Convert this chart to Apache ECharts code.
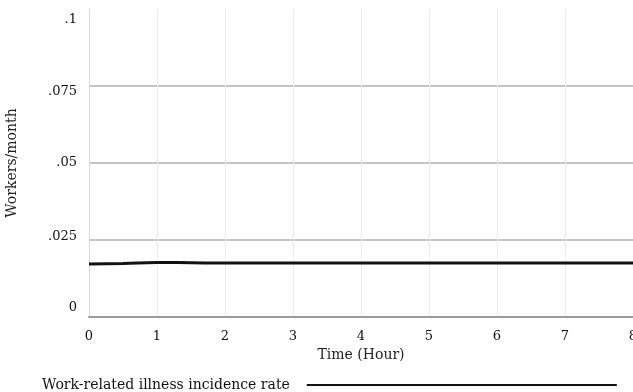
<!DOCTYPE html>
<html>
<head>
<meta charset="utf-8">
<script src="https://cdn.jsdelivr.net/npm/echarts@6/dist/echarts.min.js"></script>
<style>
  html, body { margin: 0; padding: 0; background: #fff; }
  #chart { width: 633px; height: 392px; }
</style>
</head>
<body>
<div id="chart"></div>
<script>
// Simulation output: time in hours and the illness incidence rate
const timeHours = [0, 0.5, 1, 1.5, 2, 2.5, 3, 3.5, 4, 4.5, 5, 5.5, 6, 6.5, 7, 7.5, 8];
const illnessRate = [0.0172, 0.0174, 0.0177, 0.0176, 0.0175, 0.0175, 0.0175, 0.0175, 0.0175,
                     0.0175, 0.0175, 0.0175, 0.0175, 0.0175, 0.0175, 0.0175, 0.0175];
const seriesName = 'Work-related illness incidence rate';
const yTickText = { 0: '0', 0.025: '.025', 0.05: '.05', 0.075: '.075', 0.1: '.1' };

const font = 'DejaVu Serif';
// vertical nudge (px) for each y tick label; positive moves down
const yLabelNudge = { 0: -9, 0.025: -3, 0.05: 0, 0.075: 6, 0.1: 11 };
const richFor = n => ({
  fontSize: 13, color: '#111', fontFamily: font,
  padding: n >= 0 ? [2 * n, 0, 0, 0] : [0, 0, -2 * n, 0]
});
const yRich = {};
Object.keys(yTickText).forEach((k, i) => { yRich['t' + i] = richFor(yLabelNudge[k]); });
const yKeys = Object.keys(yTickText);

const chart = echarts.init(document.getElementById('chart'));
chart.setOption({
  animation: false,
  backgroundColor: '#ffffff',
  textStyle: { fontFamily: font, color: '#111' },
  grid: { left: 89, right: 0, top: 9, bottom: 75, containLabel: false, outerBoundsMode: 'none' },
  legend: {
    left: 37,
    top: 373,
    align: 'right',
    itemWidth: 310,
    itemHeight: 2,
    itemGap: 0,
    icon: 'rect',
    textStyle: { fontFamily: font, fontSize: 14, color: '#111', padding: [0, 12, 0, 0] },
    data: [{ name: seriesName, itemStyle: { color: '#111' } }]
  },
  xAxis: {
    type: 'value',
    min: 0,
    max: 8,
    interval: 1,
    name: 'Time (Hour)',
    nameLocation: 'middle',
    nameGap: 29,
    nameTextStyle: { fontFamily: font, fontSize: 14, color: '#222' },
    axisLine: { show: true, lineStyle: { color: '#9a9a9a', width: 2 } },
    axisTick: { show: false },
    axisLabel: { margin: 13, fontSize: 13, color: '#111', fontFamily: font },
    splitLine: { show: true, lineStyle: { color: '#ececec', width: 1 } }
  },
  yAxis: {
    type: 'value',
    min: 0,
    max: 0.1,
    interval: 0.025,
    name: 'Workers/month',
    nameLocation: 'middle',
    nameGap: 70,
    nameTextStyle: { fontFamily: font, fontSize: 14, color: '#222' },
    axisLine: { show: true, lineStyle: { color: '#d8d8d8', width: 1 } },
    axisTick: { show: false },
    axisLabel: {
      margin: 12,
      fontSize: 13,
      color: '#111',
      fontFamily: font,
      formatter: v => {
        const key = String(+v.toFixed(3));
        const idx = yKeys.indexOf(key);
        return idx < 0 ? String(v) : '{t' + idx + '|' + yTickText[key] + '}';
      },
      rich: yRich
    },
    splitLine: {
      show: true,
      // no rule along the top edge at .1
      lineStyle: { color: ['#c4c4c4', '#c4c4c4', '#c4c4c4', '#c4c4c4', 'transparent'], width: 2 }
    }
  },
  series: [{
    name: seriesName,
    type: 'line',
    data: timeHours.map((t, i) => [t, illnessRate[i]]),
    showSymbol: false,
    smooth: true,
    lineStyle: { color: '#111', width: 3 },
    itemStyle: { color: '#111' }
  }]
});
</script>
</body>
</html>
